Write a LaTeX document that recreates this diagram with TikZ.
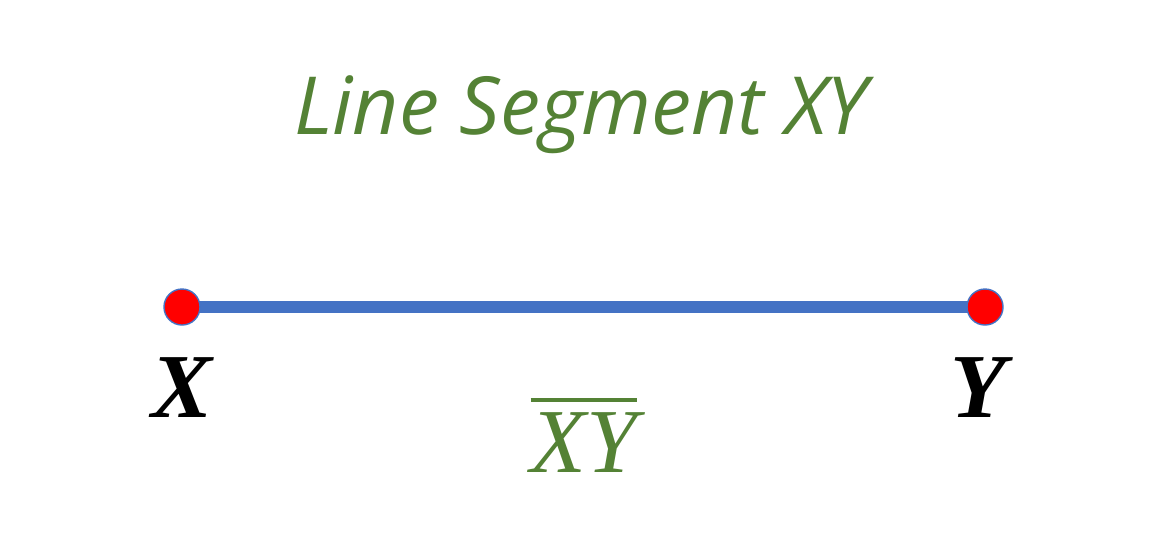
\RequirePackage{fix-cm}
\documentclass[tikz,border=0pt]{standalone}
\usepackage{exscale}
\usepackage{fontspec}
\newfontfamily\titlefont{Open Sans}
\newfontfamily\pointfont{Liberation Serif}
\definecolor{segblue}{HTML}{4472C4}
\definecolor{titlegreen}{HTML}{548235}

\begin{document}
\begin{tikzpicture}[
    x=0.01cm,y=-0.01cm,
    title/.style={text=titlegreen,font=\titlefont\itshape\fontsize{22.8}{27}\selectfont,inner sep=0pt},
    segment/.style={draw=segblue,line width=0.12cm},
    endpoint/.style={circle,fill=red,draw=segblue,line width=0.4pt,minimum size=0.36cm,inner sep=0pt},
    pointlabel/.style={font=\pointfont\bfseries\itshape\fontsize{26}{30}\selectfont,inner sep=0pt,anchor=base},
    notation/.style={text=titlegreen,font=\fontsize{26}{30}\selectfont,inner sep=0pt,anchor=base}
  ]
  \useasboundingbox (0,0) rectangle (1170,553);

  \node(t) [title,anchor=base] at (581,134) {Line Segment XY};

  \coordinate(px) at (182,307);
  \coordinate(py) at (985,307);
  \draw[segment] (px) -- (py);
  \node(x) [endpoint] at (px) {};
  \node(y) [endpoint] at (py) {};

  \node(lx) [pointlabel] at (182,417) {X};
  \node(ly) [pointlabel] at (978,417) {Y};

  \node(xy) [notation] at (584,472) {$\overline{\hbox{\pointfont\itshape XY}}$};
\end{tikzpicture}
\end{document}
